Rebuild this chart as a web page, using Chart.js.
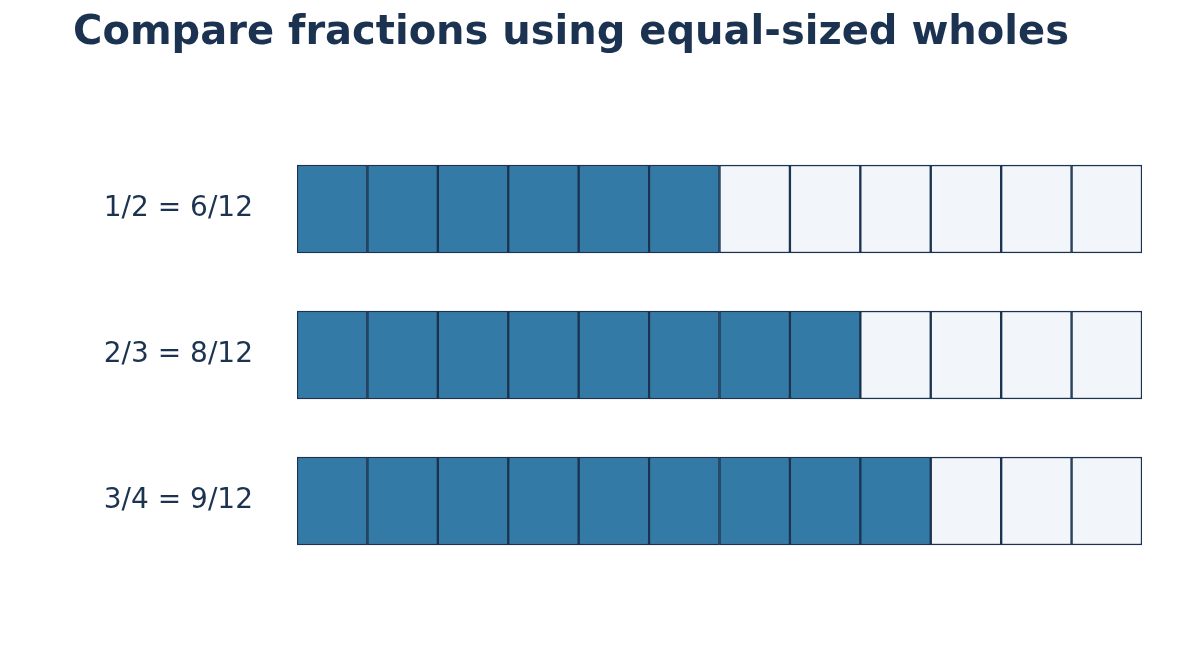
<!DOCTYPE html>
<html>
<head>
<meta charset="utf-8">
<script src="https://cdn.jsdelivr.net/npm/chart.js@4"></script>
<style>
  html, body { margin: 0; padding: 0; background: #fff; }
  #wrap { width: 1192px; height: 647px; }
</style>
</head>
<body>
<div id="wrap"><canvas id="c"></canvas></div>
<script>
const rowLabels  = ['1/2 = 6/12', '2/3 = 8/12', '3/4 = 9/12'];
const shaded     = [6, 8, 9];
const totalParts = 12;

const FILL  = '#337ba6';
const EMPTY = '#f2f6fa';
const INK   = '#1b3350';

const datasets = [];
for (let i = 0; i < totalParts; i++) {
  datasets.push({
    data: rowLabels.map(() => 1),
    backgroundColor: shaded.map(n => i < n ? FILL : EMPTY),
    borderColor: INK,
    borderWidth: 1.5,
    borderSkipped: false,
    barThickness: 88
  });
}

new Chart(document.getElementById('c'), {
  type: 'bar',
  data: { labels: rowLabels, datasets },
  options: {
    indexAxis: 'y',
    responsive: true,
    maintainAspectRatio: false,
    animation: false,
    layout: { padding: { left: 0, right: 50, bottom: 73 } },
    plugins: {
      legend: { display: false },
      tooltip: { enabled: false },
      title: {
        display: true,
        text: 'Compare fractions using equal-sized wholes',
        color: INK,
        font: { family: 'DejaVu Sans', size: 40, weight: 'bold' },
        padding: { top: 10, bottom: 78 }
      }
    },
    scales: {
      x: { stacked: true, min: 0, max: totalParts, display: false },
      y: {
        stacked: true,
        grid: { display: false },
        border: { display: false },
        ticks: { color: INK, font: { family: 'DejaVu Sans', size: 28 }, padding: 36 },
        afterFit: s => { s.width = 297; }
      }
    }
  }
});
</script>
</body>
</html>
